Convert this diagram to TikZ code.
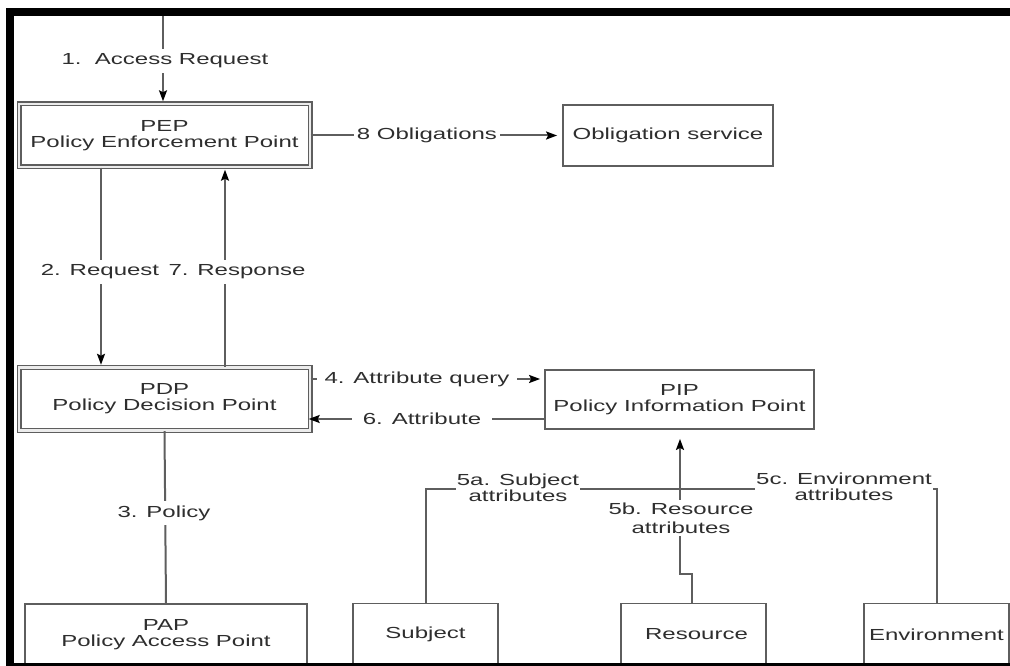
\documentclass[tikz,border=0pt]{standalone}
\usepackage{fontspec}
\setmainfont{Liberation Sans}[FakeStretch=1.5]
\usetikzlibrary{arrows.meta}
\definecolor{lc}{HTML}{5E5E5E}
\definecolor{tc}{HTML}{2E2E2E}
\begin{document}
\begin{tikzpicture}[x=1pt,y=-1pt,
  font=\fontsize{16}{16}\selectfont,
  ln/.style={draw=lc,line width=2pt},
  arr/.style={ln,-{Stealth[length=11pt,width=8pt,inset=2pt,color=black]}},
  box/.style={draw=lc,line width=1.8pt,fill=white,text=tc,align=center,inner sep=0pt},
  dbox/.style={box,line width=1.4pt,double=gray!15,double distance=2.2pt},
  lab/.style={fill=white,text=tc,align=center,inner xsep=6pt,inner ysep=5pt}
]
\useasboundingbox (0,0) rectangle (1010,666);
\begin{scope}
\clip (0,0) rectangle (1010,666);
\fill[white] (0,0) rectangle (1010,666);
% boxes
\node[dbox,minimum width=291pt,minimum height=63pt] (PEP) at (164.5,135.5) {PEP\\Policy Enforcement Point};
\node[dbox,minimum width=291pt,minimum height=63pt] (PDP) at (164.5,399) {PDP\\Policy Decision Point};
\node[box,minimum width=210pt,minimum height=61pt] (OBL) at (668,135.5) {Obligation service};
\node[box,minimum width=269pt,minimum height=59pt] (PIP) at (679.5,399.5) {PIP\\Policy Information Point};
\node[box,minimum width=282pt,minimum height=62pt] (PAP) at (166,635) {PAP\\Policy Access Point};
\node[box,minimum width=145pt,minimum height=62pt] (SUB) at (425.5,634.5) {Subject};
\node[box,minimum width=145pt,minimum height=62pt] (RES) at (693.5,634.5) {\hspace*{6pt}Resource};
\node[box,minimum width=145pt,minimum height=62pt] (ENV) at (936.5,634.5) {Environment};
% connectors
\coordinate (top) at (163,16);
\draw[arr,shorten >=2pt] (top) -- (top |- PEP.north);
\node[lab] (l1) at (165,61) {1.\ \ Access Request};

\draw[arr,shorten >=2pt] ([xshift=-63.5pt]PEP.south) -- ([xshift=-63.5pt]PDP.north);
\draw[arr,shorten >=2pt] ([xshift=60.5pt]PDP.north) -- ([xshift=60.5pt]PEP.south);
\node[lab] (l2) at (100,272) {2. Request};
\node[lab] (l7) at (237,272) {7. Response};

\draw[ln] (PDP.south) -- (PAP.north);
\node[lab] (l3) at (164,513) {3. Policy};

\draw[arr,shorten >=5pt] (PEP.east) -- (OBL.west);
\node[lab,inner xsep=3pt] (l8) at (427,135) {8 Obligations};

\coordinate (q4) at ([yshift=20pt]PDP.east);
\draw[arr,shorten >=4pt] (q4) -- (q4 -| PIP.west);
\node[lab,inner xsep=8pt] (l4) at (417,379) {4. Attribute query};

\coordinate (a6) at ([yshift=-20pt]PDP.east);
\draw[arr,shorten >=-2pt] (a6 -| PIP.west) -- (a6);
\node[lab,inner xsep=11pt] (l6) at (422,419) {6. Attribute};

\coordinate (rj) at (680,574);
\draw[arr,shorten >=9pt] ([xshift=-1.5pt]RES.north) |- (rj) -- (rj |- PIP.south);
\node[lab,inner ysep=3pt] (l5b) at (681,518) {5b. Resource\\[3pt]attributes};

\coordinate (hj) at (680,489);
\draw[ln] (SUB.north) |- (hj) -| (ENV.north);
\node[lab,inner xsep=1pt,inner ysep=1pt] (l5a) at (518,488) {5a. Subject\\attributes};
\node[lab,inner xsep=1pt,inner ysep=1pt] (l5c) at (844,487) {5c. Environment\\attributes};
% frame
\fill[black] (6,8) rectangle (1010,16);
\fill[black] (6,8) rectangle (14,666);
\fill[black] (6,663) rectangle (1010,666);
\end{scope}
\end{tikzpicture}
\end{document}
